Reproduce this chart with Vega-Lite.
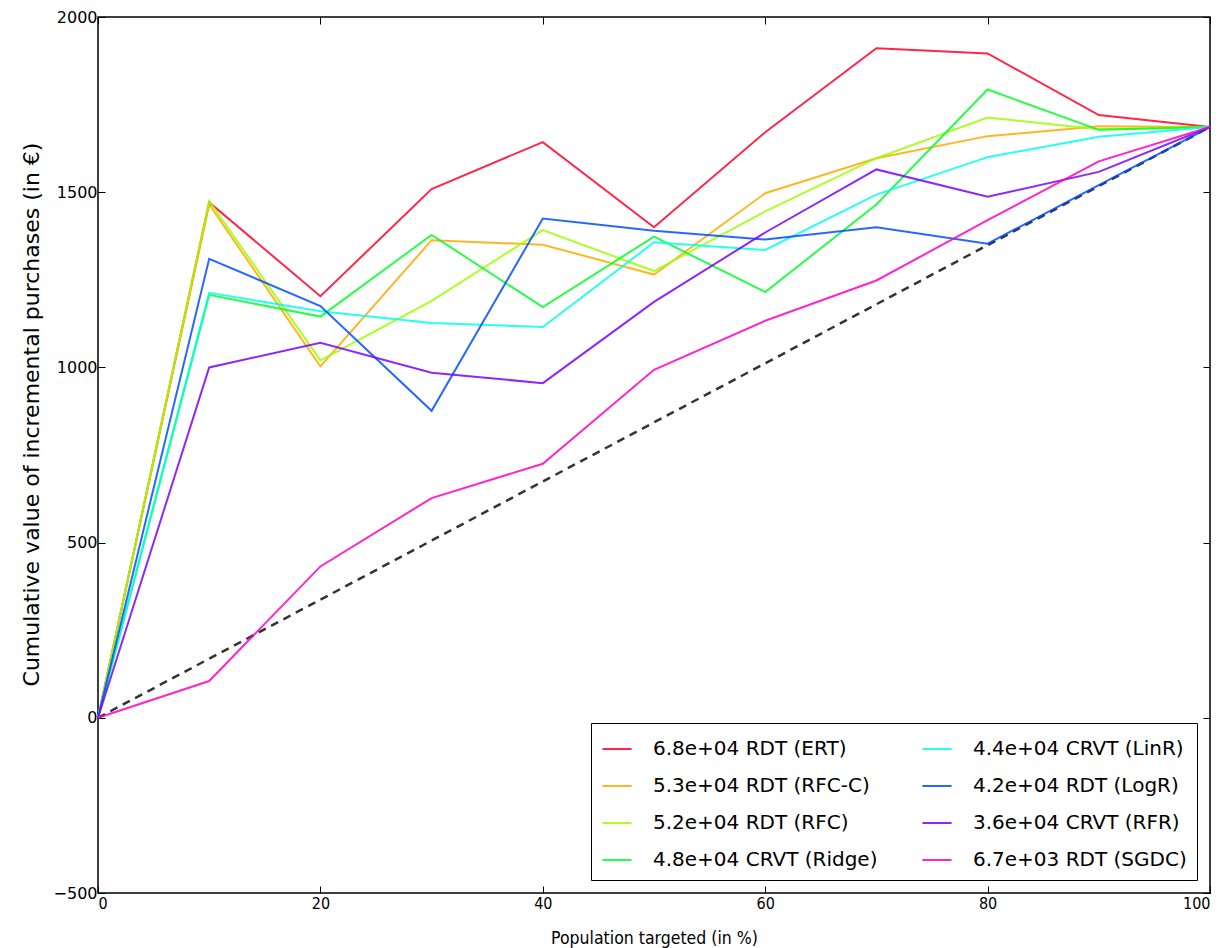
{
  "$schema": "https://vega.github.io/schema/vega-lite/v6.json",
  "width": 1112,
  "height": 876,
  "autosize": "none",
  "padding": {"left": 98, "top": 17, "right": 17, "bottom": 55},
  "background": "white",
  "config": {
    "view": {"stroke": "black", "strokeWidth": 1.5},
    "axis": {"grid": false, "domain": false, "tickColor": "black", "tickSize": -7, "tickWidth": 1, "labelColor": "black", "titleColor": "black", "titleFontWeight": "normal"}
  },
  "datasets": {
    "models": [
      {"model": "6.8e+04 RDT (ERT)", "x": 0, "y": 0}, {"model": "6.8e+04 RDT (ERT)", "x": 10, "y": 1471}, {"model": "6.8e+04 RDT (ERT)", "x": 20, "y": 1203}, {"model": "6.8e+04 RDT (ERT)", "x": 30, "y": 1509}, {"model": "6.8e+04 RDT (ERT)", "x": 40, "y": 1643}, {"model": "6.8e+04 RDT (ERT)", "x": 50, "y": 1400}, {"model": "6.8e+04 RDT (ERT)", "x": 60, "y": 1671}, {"model": "6.8e+04 RDT (ERT)", "x": 70, "y": 1911}, {"model": "6.8e+04 RDT (ERT)", "x": 80, "y": 1896}, {"model": "6.8e+04 RDT (ERT)", "x": 90, "y": 1720}, {"model": "6.8e+04 RDT (ERT)", "x": 100, "y": 1686},
      {"model": "5.3e+04 RDT (RFC-C)", "x": 0, "y": 0}, {"model": "5.3e+04 RDT (RFC-C)", "x": 10, "y": 1465}, {"model": "5.3e+04 RDT (RFC-C)", "x": 20, "y": 1003}, {"model": "5.3e+04 RDT (RFC-C)", "x": 30, "y": 1363}, {"model": "5.3e+04 RDT (RFC-C)", "x": 40, "y": 1350}, {"model": "5.3e+04 RDT (RFC-C)", "x": 50, "y": 1265}, {"model": "5.3e+04 RDT (RFC-C)", "x": 60, "y": 1497}, {"model": "5.3e+04 RDT (RFC-C)", "x": 70, "y": 1597}, {"model": "5.3e+04 RDT (RFC-C)", "x": 80, "y": 1660}, {"model": "5.3e+04 RDT (RFC-C)", "x": 90, "y": 1688}, {"model": "5.3e+04 RDT (RFC-C)", "x": 100, "y": 1686},
      {"model": "5.2e+04 RDT (RFC)", "x": 0, "y": 0}, {"model": "5.2e+04 RDT (RFC)", "x": 10, "y": 1475}, {"model": "5.2e+04 RDT (RFC)", "x": 20, "y": 1020}, {"model": "5.2e+04 RDT (RFC)", "x": 30, "y": 1190}, {"model": "5.2e+04 RDT (RFC)", "x": 40, "y": 1392}, {"model": "5.2e+04 RDT (RFC)", "x": 50, "y": 1275}, {"model": "5.2e+04 RDT (RFC)", "x": 60, "y": 1445}, {"model": "5.2e+04 RDT (RFC)", "x": 70, "y": 1597}, {"model": "5.2e+04 RDT (RFC)", "x": 80, "y": 1713}, {"model": "5.2e+04 RDT (RFC)", "x": 90, "y": 1680}, {"model": "5.2e+04 RDT (RFC)", "x": 100, "y": 1686},
      {"model": "4.8e+04 CRVT (Ridge)", "x": 0, "y": 0}, {"model": "4.8e+04 CRVT (Ridge)", "x": 10, "y": 1207}, {"model": "4.8e+04 CRVT (Ridge)", "x": 20, "y": 1145}, {"model": "4.8e+04 CRVT (Ridge)", "x": 30, "y": 1378}, {"model": "4.8e+04 CRVT (Ridge)", "x": 40, "y": 1172}, {"model": "4.8e+04 CRVT (Ridge)", "x": 50, "y": 1373}, {"model": "4.8e+04 CRVT (Ridge)", "x": 60, "y": 1215}, {"model": "4.8e+04 CRVT (Ridge)", "x": 70, "y": 1465}, {"model": "4.8e+04 CRVT (Ridge)", "x": 80, "y": 1793}, {"model": "4.8e+04 CRVT (Ridge)", "x": 90, "y": 1678}, {"model": "4.8e+04 CRVT (Ridge)", "x": 100, "y": 1686},
      {"model": "4.4e+04 CRVT (LinR)", "x": 0, "y": 0}, {"model": "4.4e+04 CRVT (LinR)", "x": 10, "y": 1213}, {"model": "4.4e+04 CRVT (LinR)", "x": 20, "y": 1160}, {"model": "4.4e+04 CRVT (LinR)", "x": 30, "y": 1127}, {"model": "4.4e+04 CRVT (LinR)", "x": 40, "y": 1115}, {"model": "4.4e+04 CRVT (LinR)", "x": 50, "y": 1357}, {"model": "4.4e+04 CRVT (LinR)", "x": 60, "y": 1335}, {"model": "4.4e+04 CRVT (LinR)", "x": 70, "y": 1493}, {"model": "4.4e+04 CRVT (LinR)", "x": 80, "y": 1600}, {"model": "4.4e+04 CRVT (LinR)", "x": 90, "y": 1658}, {"model": "4.4e+04 CRVT (LinR)", "x": 100, "y": 1686},
      {"model": "4.2e+04 RDT (LogR)", "x": 0, "y": 0}, {"model": "4.2e+04 RDT (LogR)", "x": 10, "y": 1310}, {"model": "4.2e+04 RDT (LogR)", "x": 20, "y": 1175}, {"model": "4.2e+04 RDT (LogR)", "x": 30, "y": 876}, {"model": "4.2e+04 RDT (LogR)", "x": 40, "y": 1425}, {"model": "4.2e+04 RDT (LogR)", "x": 50, "y": 1390}, {"model": "4.2e+04 RDT (LogR)", "x": 60, "y": 1365}, {"model": "4.2e+04 RDT (LogR)", "x": 70, "y": 1400}, {"model": "4.2e+04 RDT (LogR)", "x": 80, "y": 1353}, {"model": "4.2e+04 RDT (LogR)", "x": 90, "y": 1520}, {"model": "4.2e+04 RDT (LogR)", "x": 100, "y": 1686},
      {"model": "3.6e+04 CRVT (RFR)", "x": 0, "y": 0}, {"model": "3.6e+04 CRVT (RFR)", "x": 10, "y": 1000}, {"model": "3.6e+04 CRVT (RFR)", "x": 20, "y": 1070}, {"model": "3.6e+04 CRVT (RFR)", "x": 30, "y": 985}, {"model": "3.6e+04 CRVT (RFR)", "x": 40, "y": 955}, {"model": "3.6e+04 CRVT (RFR)", "x": 50, "y": 1187}, {"model": "3.6e+04 CRVT (RFR)", "x": 60, "y": 1385}, {"model": "3.6e+04 CRVT (RFR)", "x": 70, "y": 1565}, {"model": "3.6e+04 CRVT (RFR)", "x": 80, "y": 1487}, {"model": "3.6e+04 CRVT (RFR)", "x": 90, "y": 1558}, {"model": "3.6e+04 CRVT (RFR)", "x": 100, "y": 1686},
      {"model": "6.7e+03 RDT (SGDC)", "x": 0, "y": 0}, {"model": "6.7e+03 RDT (SGDC)", "x": 10, "y": 105}, {"model": "6.7e+03 RDT (SGDC)", "x": 20, "y": 432}, {"model": "6.7e+03 RDT (SGDC)", "x": 30, "y": 627}, {"model": "6.7e+03 RDT (SGDC)", "x": 40, "y": 725}, {"model": "6.7e+03 RDT (SGDC)", "x": 50, "y": 993}, {"model": "6.7e+03 RDT (SGDC)", "x": 60, "y": 1133}, {"model": "6.7e+03 RDT (SGDC)", "x": 70, "y": 1248}, {"model": "6.7e+03 RDT (SGDC)", "x": 80, "y": 1420}, {"model": "6.7e+03 RDT (SGDC)", "x": 90, "y": 1588}, {"model": "6.7e+03 RDT (SGDC)", "x": 100, "y": 1686}
    ],
    "random": [
      {"x": 0, "y": 0}, {"x": 100, "y": 1686}
    ]
  },
  "layer": [
    {
      "data": {"name": "random"},
      "mark": {"type": "line", "color": "#333333", "strokeWidth": 2.5, "strokeDash": [8, 6]},
      "encoding": {
        "x": {"field": "x", "type": "quantitative", "scale": {"domain": [0, 100], "nice": false},
              "axis": {"orient": "top", "labels": false, "title": null, "values": [0, 20, 40, 60, 80, 100]}},
        "y": {"field": "y", "type": "quantitative", "scale": {"domain": [-500, 2000], "nice": false},
              "axis": {"orient": "right", "labels": false, "title": null, "values": [-500, 0, 500, 1000, 1500, 2000]}}
      }
    },
    {
      "data": {"name": "models"},
      "mark": {"type": "line", "strokeWidth": 2, "opacity": 0.85},
      "encoding": {
        "x": {"field": "x", "type": "quantitative", "scale": {"domain": [0, 100], "nice": false},
              "axis": {"orient": "bottom", "title": "Population targeted (in %)", "values": [0, 20, 40, 60, 80, 100], "format": "d",
                       "labelFont": "DejaVu Sans Condensed", "labelFontSize": 16, "labelPadding": 9,
                       "titleFont": "DejaVu Sans Condensed", "titleFontSize": 17.5, "titlePadding": 18}},
        "y": {"field": "y", "type": "quantitative", "scale": {"domain": [-500, 2000], "nice": false},
              "axis": {"orient": "left", "title": "Cumulative value of incremental purchases (in €)", "values": [-500, 0, 500, 1000, 1500, 2000], "format": "d",
                       "labelFont": "DejaVu Sans", "labelFontSize": 16, "labelPadding": 8,
                       "titleFont": "DejaVu Sans", "titleFontSize": 22, "titlePadding": 10, "titleY": 397}},
        "color": {
          "field": "model", "type": "nominal",
          "scale": {
            "domain": ["6.8e+04 RDT (ERT)", "5.3e+04 RDT (RFC-C)", "5.2e+04 RDT (RFC)", "4.8e+04 CRVT (Ridge)", "4.4e+04 CRVT (LinR)", "4.2e+04 RDT (LogR)", "3.6e+04 CRVT (RFR)", "6.7e+03 RDT (SGDC)"],
            "range": ["#ff0029", "#ffa900", "#9eff00", "#00ff27", "#00ffeb", "#004dff", "#7900ff", "#ff00bf"]
          },
          "legend": {
            "title": null, "orient": "bottom-right", "offset": 13, "columns": 2, "columnPadding": 40,
            "symbolType": "stroke", "symbolSize": 850, "symbolStrokeWidth": 2,
            "labelFont": "DejaVu Sans", "labelFontSize": 20, "labelColor": "black", "labelLimit": 400, "labelOffset": 20,
            "rowPadding": 11, "padding": 10, "strokeColor": "black", "fillColor": "white",
            "cornerRadius": 0
          }
        }
      }
    }
  ],
  "resolve": {"axis": {"x": "independent", "y": "independent"}}
}
